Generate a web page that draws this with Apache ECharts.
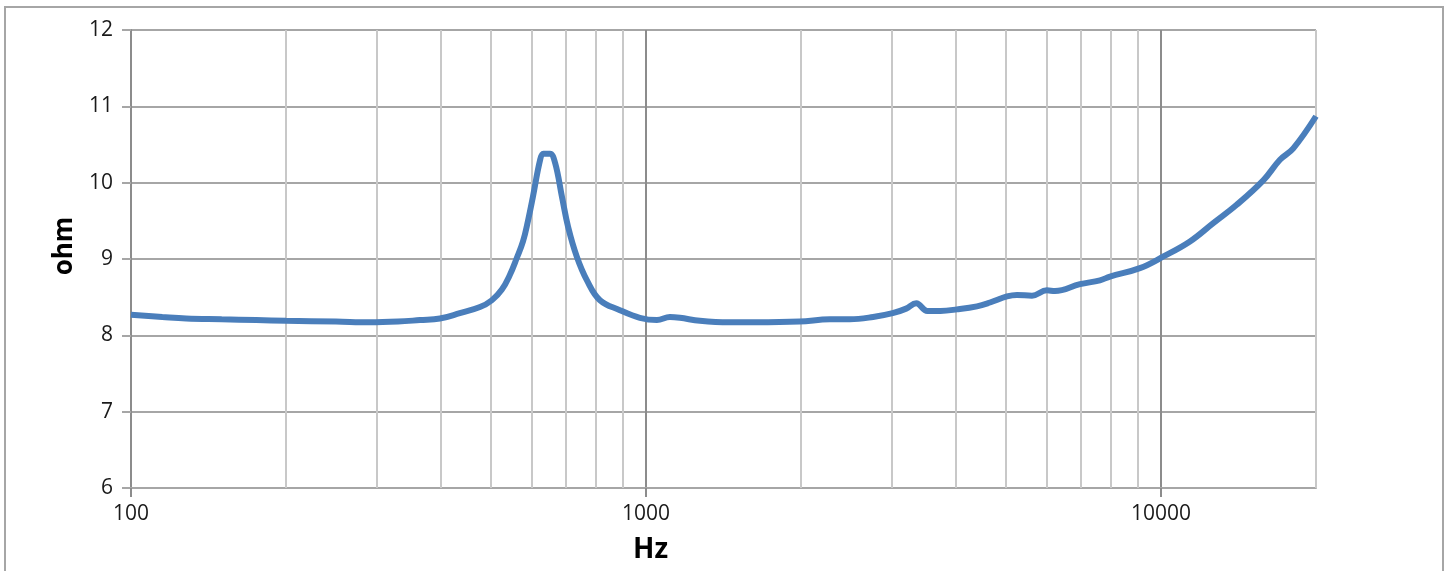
<!DOCTYPE html>
<html>
<head>
<meta charset="utf-8">
<script src="https://cdn.jsdelivr.net/npm/echarts@6/dist/echarts.min.js"></script>
<style>
  html, body { margin: 0; padding: 0; background: #fff; }
  #chart { position: absolute; left: 0; top: 0; width: 1453px; height: 571px; }
  #frame { position: absolute; left: 4px; top: 6px; width: 1436px; height: 600px;
           border: 2px solid #a6a6a6; pointer-events: none; }
</style>
</head>
<body>
<div id="chart"></div>
<div id="frame"></div>
<script>
// Frequency (Hz) and impedance (ohm)
const freqHz = [100, 115, 128, 150, 175, 200, 250, 291, 330, 364, 398, 435, 476, 502, 525, 544, 561, 577, 590, 603, 623, 632, 651, 666, 687, 706, 734, 768, 814, 890, 973, 1050, 1113, 1164, 1273, 1450, 1635, 1987, 2276, 2489, 2760, 3013, 3200, 3348, 3518, 3731, 4017, 4392, 4656, 5023, 5253, 5617, 6004, 6226, 6961, 7612, 7961, 9100, 10090, 11384, 12634, 14028, 15800, 17022, 18070, 20000];
const impedanceOhm = [8.27, 8.24, 8.22, 8.21, 8.20, 8.19, 8.18, 8.17, 8.18, 8.20, 8.22, 8.29, 8.37, 8.46, 8.60, 8.79, 9.01, 9.23, 9.50, 9.81, 10.30, 10.38, 10.38, 10.26, 9.81, 9.42, 9.03, 8.72, 8.46, 8.33, 8.23, 8.20, 8.24, 8.23, 8.19, 8.17, 8.17, 8.18, 8.21, 8.21, 8.24, 8.29, 8.35, 8.42, 8.32, 8.32, 8.34, 8.38, 8.43, 8.51, 8.53, 8.52, 8.59, 8.58, 8.67, 8.72, 8.77, 8.88, 9.03, 9.23, 9.47, 9.71, 10.03, 10.30, 10.45, 10.87];
const majorTicksHz = [100, 1000, 10000];
const minorGridHz = [200, 300, 400, 500, 600, 700, 800, 900, 2000, 3000, 4000, 5000, 6000, 7000, 8000, 9000, 20000];

const chart = echarts.init(document.getElementById('chart'), null, { renderer: 'canvas' });
const labelFont = '"Open Sans", "DejaVu Sans", sans-serif';

chart.setOption({
  animation: false,
  backgroundColor: '#ffffff',
  grid: { left: 131, top: 30, right: 137, bottom: 83, containLabel: false },
  xAxis: {
    type: 'log',
    logBase: 10,
    min: 100,
    max: 20000,
    name: 'Hz',
    nameLocation: 'middle',
    nameGap: 48,
    nameTextStyle: { fontFamily: labelFont, fontWeight: 'bold', fontSize: 28, color: '#000', padding: [0, 146, 0, 0] },
    axisLine: { show: true, lineStyle: { color: '#a6a6a6', width: 2 } },
    axisTick: { show: true, length: 9, lineStyle: { color: '#8c8c8c', width: 2 }, customValues: majorTicksHz },
    axisLabel: {
      fontFamily: labelFont, fontSize: 21, color: '#1a1a1a', margin: 16,
      customValues: majorTicksHz,
      formatter: v => String(Math.round(v))
    },
    splitLine: { show: true, lineStyle: { color: '#8c8c8c', width: 2 } },
    minorTick: { show: false },
    minorSplitLine: { show: false }
  },
  yAxis: {
    type: 'value',
    min: 6,
    max: 12,
    interval: 1,
    name: 'ohm',
    nameLocation: 'middle',
    nameGap: 42,
    nameTextStyle: { fontFamily: labelFont, fontWeight: 'bold', fontSize: 26, color: '#000', padding: [0, 0, 0, 26] },
    axisLine: { show: true, lineStyle: { color: '#8c8c8c', width: 2 } },
    axisTick: { show: true, length: 9, lineStyle: { color: '#a6a6a6', width: 2 } },
    axisLabel: { fontFamily: labelFont, fontSize: 21, color: '#1a1a1a', margin: 18 },
    splitLine: { show: true, lineStyle: { color: '#a6a6a6', width: 2 } }
  },
  series: [
    {
      type: 'line',
      data: [],
      silent: true,
      z: 1,
      markLine: {
        silent: true,
        symbol: ['none', 'none'],
        label: { show: false },
        lineStyle: { color: '#c8c8c8', width: 2, type: 'solid' },
        data: minorGridHz.map(v => ({ xAxis: v }))
      }
    },
    {
      type: 'line',
      z: 5,
      data: freqHz.map((f, i) => [f, impedanceOhm[i]]),
      showSymbol: false,
      smooth: 0.4,
      lineStyle: { color: '#4a7ebb', width: 6 },
      itemStyle: { color: '#4a7ebb' }
    }
  ]
});
</script>
</body>
</html>
